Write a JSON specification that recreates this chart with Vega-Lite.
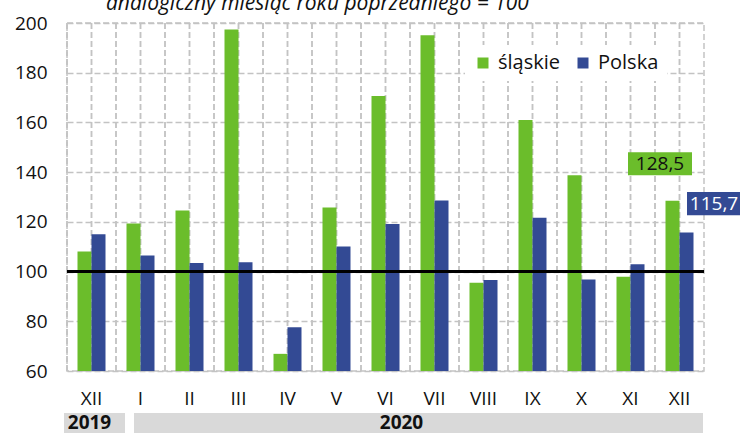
{
  "$schema": "https://vega.github.io/schema/vega-lite/v6.json",
  "padding": {"top": -7, "left": 13, "right": 0, "bottom": 0},
  "background": "white",
  "config": {
    "font": "Open Sans",
    "locale": {"number": {"decimal": ",", "thousands": " ", "grouping": [3], "currency": ["", " zł"]}},
    "view": {"stroke": "#c3c3c3", "strokeDash": [6, 3], "strokeWidth": 1.5},
    "concat": {"spacing": 4}
  },
  "title": {
    "text": "analogiczny miesiąc roku poprzedniego = 100",
    "font": "Open Sans",
    "fontStyle": "italic",
    "fontWeight": "normal",
    "fontSize": 21,
    "color": "#111111",
    "anchor": "start",
    "frame": "group",
    "baseline": "alphabetic",
    "offset": -18,
    "dx": 39
  },
  "datasets": {
    "bars": [
      {"key": "2019-XII", "series": "śląskie", "value": 108.1},
      {"key": "2019-XII", "series": "Polska", "value": 115.0},
      {"key": "2020-I", "series": "śląskie", "value": 119.3},
      {"key": "2020-I", "series": "Polska", "value": 106.5},
      {"key": "2020-II", "series": "śląskie", "value": 124.6},
      {"key": "2020-II", "series": "Polska", "value": 103.4},
      {"key": "2020-III", "series": "śląskie", "value": 197.4},
      {"key": "2020-III", "series": "Polska", "value": 103.8},
      {"key": "2020-IV", "series": "śląskie", "value": 66.9},
      {"key": "2020-IV", "series": "Polska", "value": 77.6},
      {"key": "2020-V", "series": "śląskie", "value": 125.8},
      {"key": "2020-V", "series": "Polska", "value": 110.1},
      {"key": "2020-VI", "series": "śląskie", "value": 170.6},
      {"key": "2020-VI", "series": "Polska", "value": 119.1},
      {"key": "2020-VII", "series": "śląskie", "value": 195.1},
      {"key": "2020-VII", "series": "Polska", "value": 128.6},
      {"key": "2020-VIII", "series": "śląskie", "value": 95.5},
      {"key": "2020-VIII", "series": "Polska", "value": 96.6},
      {"key": "2020-IX", "series": "śląskie", "value": 161.0},
      {"key": "2020-IX", "series": "Polska", "value": 121.7},
      {"key": "2020-X", "series": "śląskie", "value": 138.8},
      {"key": "2020-X", "series": "Polska", "value": 96.8},
      {"key": "2020-XI", "series": "śląskie", "value": 97.9},
      {"key": "2020-XI", "series": "Polska", "value": 102.9},
      {"key": "2020-XII", "series": "śląskie", "value": 128.5},
      {"key": "2020-XII", "series": "Polska", "value": 115.7}
    ],
    "years": [
      {"year": "2019", "start": "2019-XII", "end": "2019-XII", "mid": "2019-XII"},
      {"year": "2020", "start": "2020-I", "end": "2020-XII", "mid": "2020-VI"}
    ]
  },
  "vconcat": [
    {
      "width": 637,
      "height": 348,
      "data": {"name": "bars"},
      "layer": [
        {
          "mark": {"type": "rule", "color": "#c3c3c3", "strokeDash": [6, 3], "strokeWidth": 1.5},
          "encoding": {"x": {"field": "key", "type": "nominal", "sort": null, "bandPosition": 0,
            "scale": {"paddingInner": 0, "paddingOuter": 0},
            "axis": {
              "title": null,
              "labelExpr": "split(datum.value, '-')[1]",
              "labelAngle": 0,
              "labelFontSize": 19,
              "labelColor": "#111111",
              "labelPadding": 18,
              "ticks": false,
              "domain": false,
              "grid": false,
              "bandPosition": 0.5
            }}}
        },
        {
          "mark": {"type": "rule", "color": "#c3c3c3", "strokeDash": [6, 3], "strokeWidth": 1.5},
          "encoding": {"x": {"field": "key", "type": "nominal", "sort": null, "bandPosition": 0.5}}
        },
        {
          "mark": {"type": "bar"},
          "encoding": {
            "x": {"field": "key", "type": "nominal", "sort": null},
            "xOffset": {"field": "series", "type": "nominal", "sort": ["śląskie", "Polska"], "scale": {"paddingInner": 0, "paddingOuter": 0.75}},
            "y": {
              "field": "value",
              "type": "quantitative",
              "scale": {"domain": [60, 200], "nice": false, "zero": false},
              "axis": {
                "title": null,
                "values": [60, 80, 100, 120, 140, 160, 180, 200],
                "labelFontSize": 19,
                "labelColor": "#111111",
                "labelPadding": 20,
                "ticks": false,
                "domain": false,
                "grid": true,
                "gridColor": "#c3c3c3",
                "gridDash": [6, 3],
                "gridWidth": 1.5
              }
            },
            "y2": {"datum": 60},
            "color": {
              "field": "series",
              "type": "nominal",
              "sort": ["śląskie", "Polska"],
              "scale": {"domain": ["śląskie", "Polska"], "range": ["#6bbd2b", "#334a94"]},
              "legend": {
                "title": null,
                "orient": "none",
                "legendX": 398,
                "legendY": 22,
                "direction": "horizontal",
                "symbolType": "square",
                "symbolSize": 121,
                "symbolStrokeWidth": 0,
                "labelFontSize": 20,
                "labelColor": "#111111",
                "labelOffset": 5,
                "columnPadding": 12,
                "padding": 8,
                "fillColor": "white"
              }
            }
          }
        },
        {
          "mark": {"type": "rule", "color": "black", "strokeWidth": 2.5},
          "encoding": {"y": {"datum": 100}}
        },
        {
          "transform": [{"filter": "datum.key == '2020-XII' && datum.series == 'śląskie'"}],
          "mark": {"type": "point", "shape": "M-1,-0.36L1,-0.36L1,0.36L-1,0.36Z", "size": 4096, "filled": true, "color": "#6bbd2b", "opacity": 1, "xOffset": -19.5, "yOffset": -37},
          "encoding": {"x": {"field": "key", "type": "nominal", "sort": null}, "y": {"field": "value", "type": "quantitative"}}
        },
        {
          "transform": [{"filter": "datum.key == '2020-XII' && datum.series == 'śląskie'"}],
          "mark": {"type": "text", "fontSize": 19, "color": "#111111", "dx": -19.5, "dy": -37},
          "encoding": {"x": {"field": "key", "type": "nominal", "sort": null}, "y": {"field": "value", "type": "quantitative"}, "text": {"field": "value", "type": "quantitative", "format": ".1f"}}
        },
        {
          "transform": [{"filter": "datum.key == '2020-XII' && datum.series == 'Polska'"}],
          "mark": {"type": "point", "shape": "M-1,-0.43L1,-0.43L1,0.43L-1,0.43Z", "size": 2916, "filled": true, "color": "#334a94", "opacity": 1, "xOffset": 34.5, "yOffset": -29},
          "encoding": {"x": {"field": "key", "type": "nominal", "sort": null}, "y": {"field": "value", "type": "quantitative"}}
        },
        {
          "transform": [{"filter": "datum.key == '2020-XII' && datum.series == 'Polska'"}],
          "mark": {"type": "text", "fontSize": 19, "color": "white", "dx": 34.5, "dy": -29},
          "encoding": {"x": {"field": "key", "type": "nominal", "sort": null}, "y": {"field": "value", "type": "quantitative"}, "text": {"field": "value", "type": "quantitative", "format": ".1f"}}
        }
      ]
    },
    {
      "width": 637,
      "height": 22,
      "view": {"stroke": null},
      "data": {"name": "years"},
      "layer": [
        {
          "transform": [{"filter": "datum.year == '2019'"}],
          "mark": {"type": "rect", "color": "#d9d9d9", "xOffset": -3, "x2Offset": 9},
          "encoding": {
            "x": {"field": "start", "type": "nominal", "bandPosition": 0, "scale": {"domain": ["2019-XII", "2020-I", "2020-II", "2020-III", "2020-IV", "2020-V", "2020-VI", "2020-VII", "2020-VIII", "2020-IX", "2020-X", "2020-XI", "2020-XII"], "paddingInner": 0, "paddingOuter": 0}, "axis": null},
            "x2": {"field": "end", "bandPosition": 1}
          }
        },
        {
          "transform": [{"filter": "datum.year == '2020'"}],
          "mark": {"type": "rect", "color": "#d9d9d9", "xOffset": 18, "x2Offset": -1},
          "encoding": {
            "x": {"field": "start", "type": "nominal", "bandPosition": 0, "axis": null},
            "x2": {"field": "end", "bandPosition": 1}
          }
        },
        {
          "transform": [{"filter": "datum.year == '2019'"}],
          "mark": {"type": "text", "fontSize": 19, "fontWeight": "bold", "color": "#111111", "dx": -2, "dy": -1},
          "encoding": {
            "x": {"field": "mid", "type": "nominal", "bandPosition": 0.5, "axis": null},
            "text": {"field": "year"}
          }
        },
        {
          "transform": [{"filter": "datum.year == '2020'"}],
          "mark": {"type": "text", "fontSize": 19, "fontWeight": "bold", "color": "#111111", "dx": 16, "dy": -1},
          "encoding": {
            "x": {"field": "mid", "type": "nominal", "bandPosition": 0.5, "axis": null},
            "text": {"field": "year"}
          }
        }
      ]
    }
  ]
}
